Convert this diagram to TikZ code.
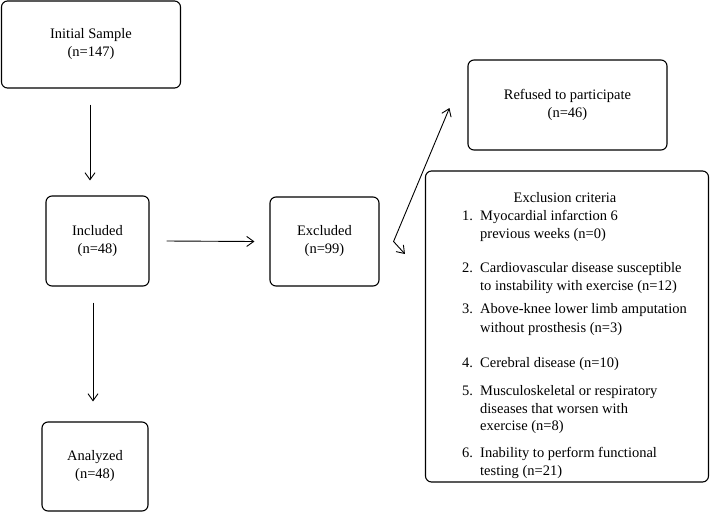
\documentclass[tikz,border=0pt]{standalone}
\usepackage{fontspec}
\setmainfont{Liberation Serif}
\usetikzlibrary{arrows.meta}
\begin{document}
\begin{tikzpicture}[x=1pt,y=-1pt,
  box/.style={draw, rounded corners=6pt, line width=1.1pt, align=center, inner sep=0pt,
    font=\fontsize{14.5}{18}\selectfont},
  arr/.style={-{Straight Barb[length=7pt,width=10pt,line width=0.9pt]}, line width=0.9pt},
  dblarr/.style={{Straight Barb[length=7pt,width=10pt,line width=0.9pt]}-{Straight Barb[length=7pt,width=10pt,line width=0.9pt]}, line width=0.9pt},
  txt/.style={anchor=base west, inner sep=0pt, font=\fontsize{14.5}{18}\selectfont}]
\useasboundingbox (0,0) rectangle (710,512);
\node[box, minimum width=179pt, minimum height=87pt] (init) at (91,44.5) {Initial Sample\\(n=147)};
\node[box, minimum width=103pt, minimum height=90pt] (incl) at (97.5,241) {Included\\(n=48)};
\node[box, minimum width=109pt, minimum height=89pt] (exc) at (324.5,241.5) {Excluded\\(n=99)};
\node[box, minimum width=106pt, minimum height=89pt] (anal) at (95,466.5) {Analyzed\\(n=48)};
\node[box, minimum width=199pt, minimum height=90pt] (ref) at (567.5,105) {Refused to participate\\(n=46)};
\node[box, minimum width=283pt, minimum height=311pt] (crit) at (567,326.5) {};
% arrows
\draw[arr] ([xshift=-1pt,yshift=-16pt]init.south) -- ([xshift=-7.5pt,yshift=15pt]incl.north);
\draw[arr] ([xshift=17pt]incl.east) -- ([xshift=-15pt]exc.west);
\draw[arr] ([xshift=-4.5pt,yshift=-16pt]incl.south) -- ([xshift=-2pt,yshift=20pt]anal.north);
\coordinate (v) at ([xshift=14pt]exc.east);
\draw[dblarr] ([xshift=-18pt,yshift=-3pt]ref.west) -- (v) -- ([xshift=-20pt,yshift=72.5pt]crit.west);
% exclusion criteria text
\node[anchor=base, inner sep=0pt, font=\fontsize{14.5}{18}\selectfont] (t0) at (565,202) {Exclusion criteria};
\node[txt] (n1) at (462,220) {1.};
\node[txt] (a1) at (480,220) {Myocardial infarction 6};
\node[txt] (b1) at (480,238) {previous weeks (n=0)};
\node[txt] (n2) at (462,272) {2.};
\node[txt] (a2) at (480,272) {Cardiovascular disease susceptible};
\node[txt] (b2) at (480,290) {to instability with exercise (n=12)};
\node[txt] (n3) at (462,313) {3.};
\node[txt] (a3) at (480,313) {Above-knee lower limb amputation};
\node[txt] (b3) at (480,332) {without prosthesis (n=3)};
\node[txt] (n4) at (462,367) {4.};
\node[txt] (a4) at (480,367) {Cerebral disease (n=10)};
\node[txt] (n5) at (462,395) {5.};
\node[txt] (a5) at (480,395) {Musculoskeletal or respiratory};
\node[txt] (b5) at (480,413) {diseases that worsen with};
\node[txt] (c5) at (480,430) {exercise (n=8)};
\node[txt] (n6) at (462,457) {6.};
\node[txt] (a6) at (480,457) {Inability to perform functional};
\node[txt] (b6) at (480,475) {testing (n=21)};
\end{tikzpicture}
\end{document}
